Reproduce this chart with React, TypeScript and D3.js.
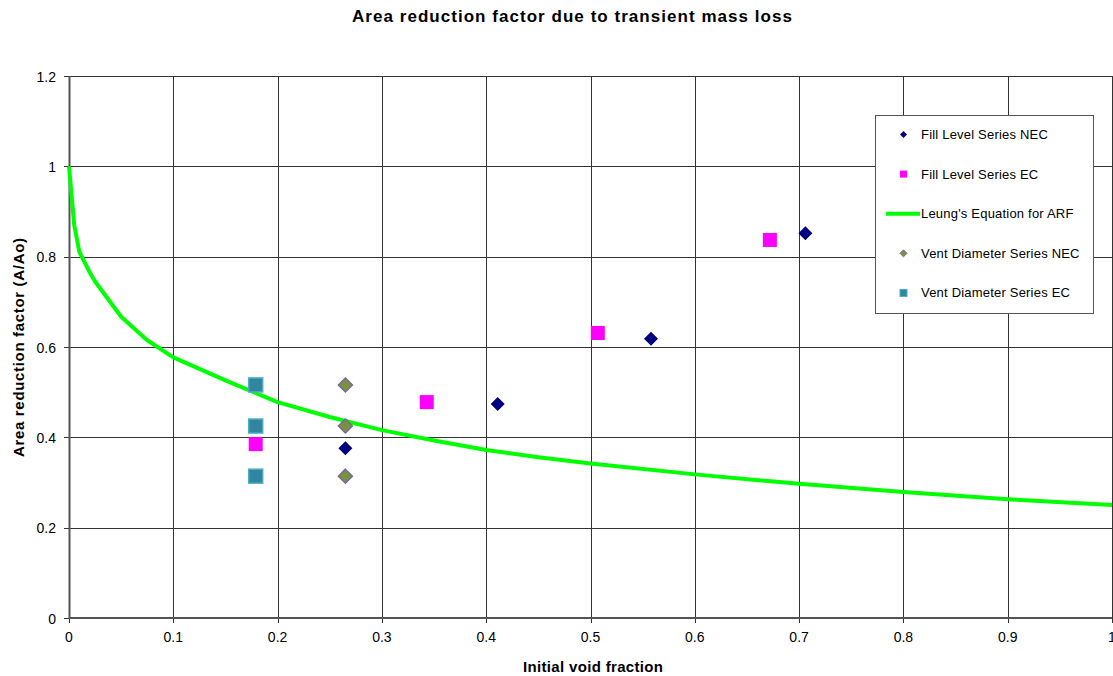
import React from "react";
import * as d3 from "d3";

const xTicks = [0, 0.1, 0.2, 0.3, 0.4, 0.5, 0.6, 0.7, 0.8, 0.9, 1];
const yTicks = [0, 0.2, 0.4, 0.6, 0.8, 1, 1.2];

const fillNEC_x = [0.265, 0.411, 0.558, 0.706];
const fillNEC_y = [0.376, 0.474, 0.618, 0.852];
const fillEC_x = [0.179, 0.343, 0.507, 0.672];
const fillEC_y = [0.385, 0.478, 0.631, 0.837];
const ventNEC_x = [0.265, 0.265, 0.265];
const ventNEC_y = [0.516, 0.425, 0.314];
const ventEC_x = [0.179, 0.179, 0.179];
const ventEC_y = [0.516, 0.425, 0.314];

const leungX = [0, 0.005, 0.01, 0.02, 0.025, 0.05, 0.075, 0.1, 0.15, 0.2, 0.25, 0.3, 0.35, 0.4, 0.45, 0.5, 0.6, 0.7, 0.8, 0.9, 1.0];
const leungY = [1.0, 0.87, 0.81, 0.765, 0.745, 0.667, 0.615, 0.577, 0.526, 0.478, 0.445, 0.416, 0.393, 0.372, 0.356, 0.342, 0.318, 0.297, 0.279, 0.263, 0.25];

const legendItems = [
  { label: "Fill Level Series NEC", kind: "diamond", fill: "#000080", stroke: "#000080" },
  { label: "Fill Level Series EC", kind: "square", fill: "#FF00FF", stroke: "#FF00FF" },
  { label: "Leung's Equation for ARF", kind: "line", fill: "#00FF00", stroke: "#00FF00" },
  { label: "Vent Diameter Series NEC", kind: "diamond", fill: "#77933C", stroke: "#8064A2" },
  { label: "Vent Diameter Series EC", kind: "square", fill: "#31859C", stroke: "#4BACC6" },
];

const FONT = "'Liberation Sans', Arial, sans-serif";

export default function App() {
  const W = 1113, H = 676;
  const x = d3.scaleLinear().domain([0, 1]).range([69, 1112]);
  const y = d3.scaleLinear().domain([0, 1.2]).range([618, 76]);
  const line = d3.line<number>().x((_, i) => x(leungX[i])).y((d) => y(d));

  const diamond = (cx: number, cy: number, r: number) =>
    `M${cx},${cy - r}L${cx + r},${cy}L${cx},${cy + r}L${cx - r},${cy}Z`;

  return (
    <svg width={W} height={H} style={{ position: "absolute", left: 0, top: 0, background: "#fff" }} fontFamily={FONT}>
      <rect width={W} height={H} fill="#fff" />
      <text x={352} y={22} fontSize={17} fontWeight="bold" textLength={440} lengthAdjust="spacing">
        Area reduction factor due to transient mass loss
      </text>
      {/* grid */}
      {yTicks.map((t) => (
        <line key={"gy" + t} x1={x(0) - 5} x2={x(1)} y1={Math.round(y(t)) + 0.5} y2={Math.round(y(t)) + 0.5} stroke="#333" strokeWidth={1} />
      ))}
      {xTicks.map((t) => (
        <line key={"gx" + t} x1={Math.round(x(t)) + 0.5} x2={Math.round(x(t)) + 0.5} y1={y(1.2)} y2={y(0) + 5} stroke="#333" strokeWidth={1} />
      ))}
      <line x1={x(0) + 0.5} x2={x(0) + 0.5} y1={y(1.2)} y2={y(0)} stroke="#555" strokeWidth={2} />
      <line x1={x(0)} x2={x(1)} y1={y(0)} y2={y(0)} stroke="#555" strokeWidth={2} />
      {/* tick labels */}
      {yTicks.map((t) => (
        <text key={"ty" + t} x={56} y={y(t) + 5.5} textAnchor="end" fontSize={14}>
          {String(t)}
        </text>
      ))}
      {xTicks.map((t) => (
        <text key={"tx" + t} x={x(t)} y={642} textAnchor="middle" fontSize={14}>
          {String(t)}
        </text>
      ))}
      <text x={523} y={672} fontSize={15} fontWeight="bold" textLength={140} lengthAdjust="spacing">
        Initial void fraction
      </text>
      <text transform={`translate(24,457) rotate(-90)`} fontSize={15} fontWeight="bold" textLength={219} lengthAdjust="spacing">
        Area reduction factor (A/Ao)
      </text>
      {/* curve */}
      <path d={line(leungY) || ""} fill="none" stroke="#00FF00" strokeWidth={4} strokeLinejoin="round" />
      {/* markers */}
      {ventEC_y.map((v, i) => (
        <rect key={"ve" + i} x={x(ventEC_x[i]) - 7} y={y(v) - 7} width={14} height={14} fill="#31859C" stroke="#4BACC6" strokeWidth={1.5} />
      ))}
      {ventNEC_y.map((v, i) => (
        <path key={"vn" + i} d={diamond(x(ventNEC_x[i]), y(v), 7)} fill="#77933C" stroke="#8064A2" strokeWidth={1.5} />
      ))}
      {fillEC_y.map((v, i) => (
        <rect key={"fe" + i} x={x(fillEC_x[i]) - 7} y={y(v) - 7} width={14} height={14} fill="#FF00FF" />
      ))}
      {fillNEC_y.map((v, i) => (
        <path key={"fn" + i} d={diamond(x(fillNEC_x[i]), y(v), 7)} fill="#000080" />
      ))}
      {/* legend */}
      <rect x={875.5} y={115.5} width={218} height={198} fill="#fff" stroke="#555" strokeWidth={1} />
      {legendItems.map((it, i) => {
        const cy = 134.5 + i * 39.6;
        return (
          <g key={it.label}>
            {it.kind === "line" && <line x1={886} x2={920} y1={cy} y2={cy} stroke={it.stroke} strokeWidth={4} />}
            {it.kind === "square" && <rect x={900} y={cy - 3.5} width={7} height={7} fill={it.fill} stroke={it.stroke} strokeWidth={it.fill === it.stroke ? 0 : 1} />}
            {it.kind === "diamond" && <path d={diamond(903.5, cy, 3.5)} fill={it.fill} stroke={it.stroke} strokeWidth={it.fill === it.stroke ? 0 : 1} />}
            <text x={921} y={cy + 4.5} fontSize={13} letterSpacing={0.2}>{it.label}</text>
          </g>
        );
      })}
    </svg>
  );
}
